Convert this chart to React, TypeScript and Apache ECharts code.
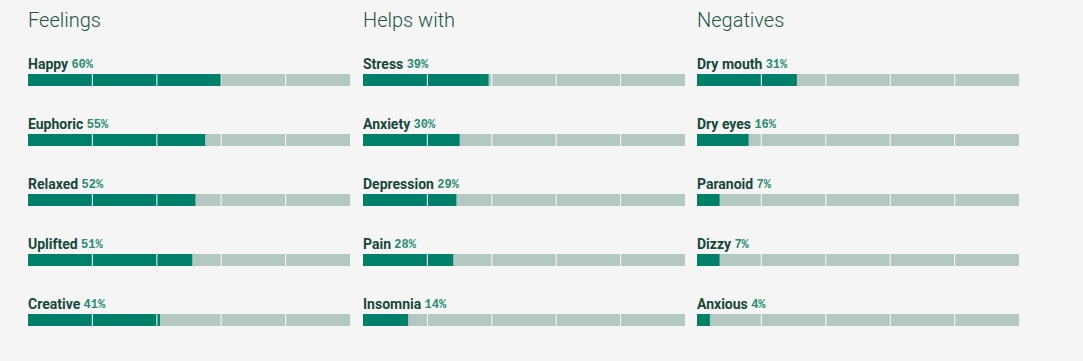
import React, { useEffect, useRef } from "react";
import * as echarts from "echarts";

const panelTitles = ["Feelings", "Helps with", "Negatives"];
const feelingsNames = ["Happy", "Euphoric", "Relaxed", "Uplifted", "Creative"];
const feelingsValues = [60, 55, 52, 51, 41];
const helpsNames = ["Stress", "Anxiety", "Depression", "Pain", "Insomnia"];
const helpsValues = [39, 30, 29, 28, 14];
const negativesNames = ["Dry mouth", "Dry eyes", "Paranoid", "Dizzy", "Anxious"];
const negativesValues = [31, 16, 7, 7, 4];
const dividerTicks = [20, 40, 60, 80];

const panels = [
  { names: feelingsNames, values: feelingsValues },
  { names: helpsNames, values: helpsValues },
  { names: negativesNames, values: negativesValues },
];

const GREEN = "#007f6b";
const GRAY = "#b4c8c2";
const lefts = [28, 363, 697];
const W = 322;

export default function App() {
  const ref = useRef<HTMLDivElement>(null);
  useEffect(() => {
    if (!ref.current) return;
    const chart = echarts.init(ref.current, null, { renderer: "svg" });
    const grids: any[] = [];
    const xAxes: any[] = [];
    const yAxes: any[] = [];
    const series: any[] = [];
    const titles: any[] = [];
    panels.forEach((p, i) => {
      titles.push({
        text: panelTitles[i],
        left: lefts[i] - 5,
        top: 5,
        textStyle: {
          fontFamily: "Roboto",
          fontWeight: 300,
          fontSize: 20,
          color: "#1f5446",
        },
      });
      grids.push({ left: lefts[i], width: W, top: 50, height: 300 });
      xAxes.push({
        type: "value",
        gridIndex: i,
        min: 0,
        max: 100,
        show: false,
      });
      yAxes.push({
        type: "category",
        gridIndex: i,
        data: p.names,
        inverse: true,
        show: false,
      });
      series.push({
        type: "bar",
        xAxisIndex: i,
        yAxisIndex: i,
        data: p.names.map(() => 100),
        barWidth: 12,
        barGap: "-100%",
        itemStyle: { color: GRAY },
        silent: true,
        label: {
          show: true,
          position: [0, -3],
          align: "left",
          verticalAlign: "bottom",
          formatter: (params: any) =>
            `{n|${p.names[params.dataIndex]}} {v|${p.values[params.dataIndex]}%}`,
          rich: {
            n: {
              fontFamily: "Roboto",
              fontWeight: "bold",
              fontSize: 14,
              color: "#16483a",
              verticalAlign: "bottom",
              lineHeight: 16,
            },
            v: {
              fontFamily: "Liberation Mono",
              fontWeight: "bold",
              fontSize: 12,
              color: "#2b8a72",
              verticalAlign: "bottom",
              lineHeight: 14,
            },
          },
        },
      });
      series.push({
        type: "bar",
        xAxisIndex: i,
        yAxisIndex: i,
        data: p.values,
        barWidth: 12,
        barGap: "-100%",
        itemStyle: { color: GREEN },
        silent: true,
      });
      const divs: any[] = [];
      p.names.forEach((n) => dividerTicks.forEach((t) => divs.push([t, n])));
      series.push({
        type: "scatter",
        xAxisIndex: i,
        yAxisIndex: i,
        data: divs,
        symbol: "rect",
        symbolSize: [1.2, 12],
        itemStyle: { color: "#ffffff" },
        z: 5,
        silent: true,
      });
    });
    chart.setOption({
      animation: false,
      backgroundColor: "#f5f5f5",
      title: titles,
      grid: grids,
      xAxis: xAxes,
      yAxis: yAxes,
      series,
    });
    return () => chart.dispose();
  }, []);
  return (
    <div
      ref={ref}
      style={{ position: "fixed", left: 0, top: 0, width: 1083, height: 361 }}
    />
  );
}
